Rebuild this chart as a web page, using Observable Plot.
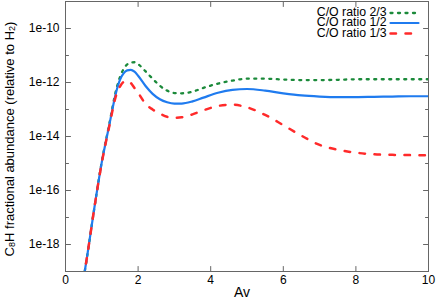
<!DOCTYPE html>
<html><head><meta charset="utf-8">
<script src="https://cdn.jsdelivr.net/npm/d3@7"></script>
<script src="https://cdn.jsdelivr.net/npm/@observablehq/plot@0.6"></script>
<style>body{margin:0;background:#fff} svg{font-family:"Liberation Sans",Arial,sans-serif}</style>
</head><body><div id="chart"></div>
<script>
// Av (visual extinction)
const av = [0.5,0.6,0.8,1.0,1.2,1.4,1.5,1.6,1.7,1.8,1.9,2.0,2.2,2.4,2.6,2.8,3.0,3.2,3.5,3.8,4.2,4.6,5.0,5.5,6.0,6.5,7.0,7.5,8.0,8.5,9.0,9.5,10.0];
// log10 of C8H fractional abundance
const logCO23 = [-19.25,-18.4,-16.6,-14.93,-13.58,-12.25,-11.8,-11.5,-11.33,-11.26,-11.25,-11.32,-11.58,-11.86,-12.12,-12.3,-12.39,-12.4,-12.34,-12.2,-12.04,-11.93,-11.86,-11.86,-11.89,-11.91,-11.91,-11.9,-11.88,-11.88,-11.88,-11.88,-11.88];
const logCO12 = [-19.25,-18.4,-16.6,-14.95,-13.62,-12.33,-11.9,-11.66,-11.55,-11.53,-11.6,-11.75,-12.12,-12.42,-12.62,-12.73,-12.78,-12.78,-12.7,-12.56,-12.38,-12.27,-12.24,-12.3,-12.4,-12.48,-12.52,-12.54,-12.54,-12.53,-12.52,-12.51,-12.51];
const logCO13 = [-19.25,-18.4,-16.6,-14.97,-13.66,-12.45,-12.15,-11.98,-11.94,-12.02,-12.2,-12.38,-12.78,-13.0,-13.15,-13.27,-13.31,-13.29,-13.18,-13.03,-12.87,-12.82,-12.92,-13.2,-13.58,-13.97,-14.31,-14.49,-14.6,-14.66,-14.68,-14.69,-14.7];
const seriesNames = ["C/O ratio 2/3","C/O ratio 1/2","C/O ratio 1/3"];
const xTicks = [0,2,4,6,8,10];
const yMajor = [1e-18,1e-16,1e-14,1e-12,1e-10];
const yMinor = [1e-17,1e-15,1e-13,1e-11];

const seriesLogs = [logCO23, logCO12, logCO13];
const colors = ["#1b8a3a","#1f7bef","#ff2a2a"];
const dashes = ["2,5.5", null, "5.5,9.5"];
const widths = [2.3, 2.2, 2.5];
const legendRowY = [11, 21, 31.5];

const tickShape = {draw(ctx, l){ctx.moveTo(0,0); ctx.lineTo(0,-l);}};
const axisColor = "#666";
const fmt = d => "1e" + Math.round(Math.log10(d));

const marks = [];
seriesLogs.forEach((lg, s) => {
  const rows = av.map((x, i) => ({x, y: Math.pow(10, lg[i])}));
  marks.push(Plot.line(rows, {x:"x", y:"y", stroke: colors[s], strokeWidth: widths[s], strokeDasharray: dashes[s], curve:"monotone-x", clip:true}));
});
// inward ticks
marks.push(
  Plot.vector(yMajor, {y: d=>d, frameAnchor:"left", rotate:90, length:5, anchor:"start", shape:tickShape, stroke:axisColor, strokeWidth:1}),
  Plot.vector(yMinor, {y: d=>d, frameAnchor:"left", rotate:90, length:3, anchor:"start", shape:tickShape, stroke:axisColor, strokeWidth:1}),
  Plot.vector(yMajor, {y: d=>d, frameAnchor:"right", rotate:-90, length:5, anchor:"start", shape:tickShape, stroke:axisColor, strokeWidth:1}),
  Plot.vector(yMinor, {y: d=>d, frameAnchor:"right", rotate:-90, length:3, anchor:"start", shape:tickShape, stroke:axisColor, strokeWidth:1}),
  Plot.vector(xTicks, {x: d=>d, frameAnchor:"bottom", rotate:0, length:5, anchor:"start", shape:tickShape, stroke:axisColor, strokeWidth:1}),
  Plot.vector(xTicks, {x: d=>d, frameAnchor:"top", rotate:180, length:5, anchor:"start", shape:tickShape, stroke:axisColor, strokeWidth:1}),
  Plot.frame({stroke: axisColor}),
  Plot.axisX(xTicks, {tickSize:0, tickPadding:4, label:null, fontSize:12, fill:"black"}),
  Plot.axisY(yMajor, {tickSize:0, tickPadding:6, label:null, tickFormat: fmt, fontSize:12, fill:"black"}),
  Plot.text(["Av"], {frameAnchor:"bottom", dy:21, dx:-5, fontSize:14, lineAnchor:"middle", fill:"black"})
);
// legend
seriesNames.forEach((name, s) => {
  marks.push(
    Plot.text([name], {frameAnchor:"top-right", dx:-42, dy:legendRowY[s], textAnchor:"end", lineAnchor:"middle", fontSize:12.3, fill:"black"}),
    Plot.vector([0], {frameAnchor:"top-right", dx:-38, dy:legendRowY[s] + 0.5, rotate:90, length:28, anchor:"start", shape:tickShape, stroke:colors[s], strokeWidth:widths[s], strokeDasharray:dashes[s]})
  );
});

const chart = Plot.plot({
  width: 436, height: 308,
  marginLeft: 65, marginRight: 8, marginTop: 1, marginBottom: 37,
  x: {domain:[0,10]},
  y: {type:"log", domain:[1e-19,1e-9]},
  style: {fontFamily:"Liberation Sans, Arial, sans-serif", background:"#fff"},
  marks
});
const svg = d3.select(chart);
const lab = svg.append("text")
  .attr("transform","translate(9,139) rotate(-90)")
  .attr("text-anchor","middle")
  .attr("dominant-baseline","central")
  .attr("font-size",13)
  .attr("fill","black");
lab.append("tspan").text("C");
lab.append("tspan").attr("font-size",9).attr("dy",3).text("8");
lab.append("tspan").attr("dy",-3).text("H fractional abundance (relative to H");
lab.append("tspan").attr("font-size",9).attr("dy",3).text("2");
lab.append("tspan").attr("dy",-3).text(")");
document.getElementById("chart").appendChild(chart);
</script>
</body></html>
